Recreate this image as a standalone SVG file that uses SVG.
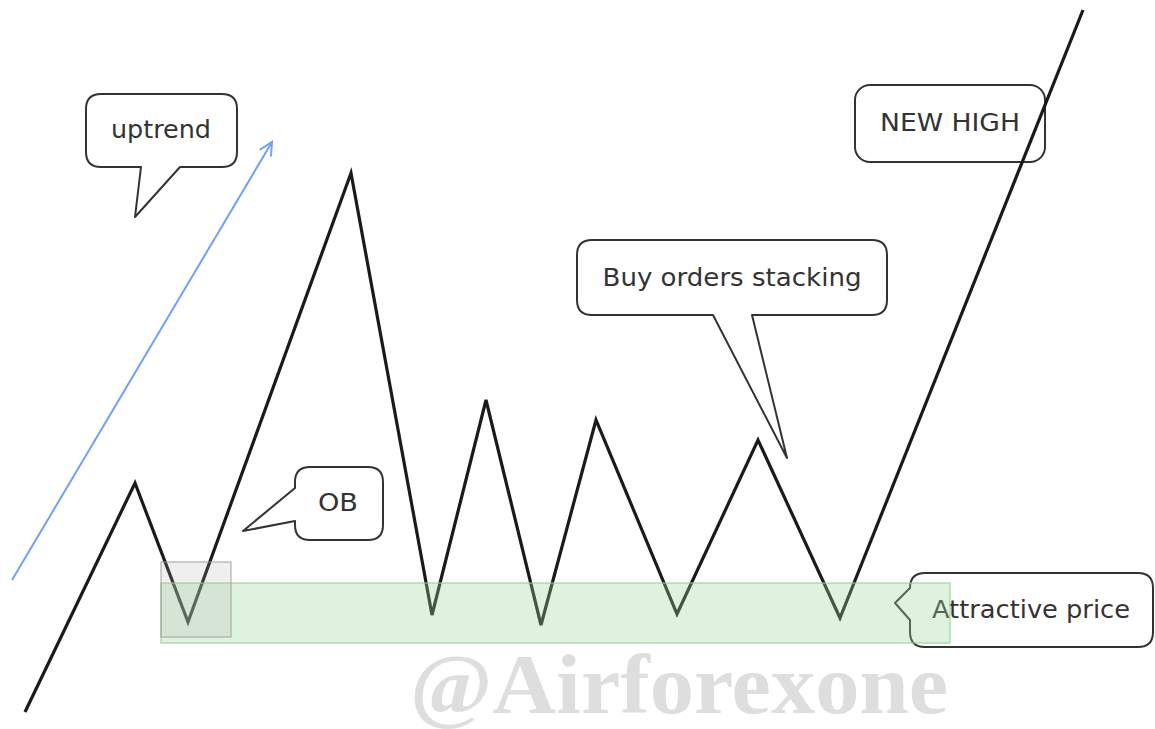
<svg xmlns="http://www.w3.org/2000/svg" width="1155" height="729" viewBox="0 0 1155 729">
<style>
.co{fill:#fff;stroke:#333;stroke-width:2;stroke-linejoin:round}
.lbl{font-family:"DejaVu Sans",Verdana,sans-serif;font-size:24px;fill:#333;text-anchor:middle}
</style>
<defs>
<marker id="ah" viewBox="0 0 16 16" refX="14" refY="8" markerWidth="16" markerHeight="16" markerUnits="userSpaceOnUse" orient="auto">
<path d="M1,1.5 L14,8 L1,14.5" fill="none" stroke="#6fa0ff" stroke-width="2"/>
</marker>
</defs>
<rect width="1155" height="729" fill="#fff"/>
<text x="679" y="713" font-family="'Liberation Serif',serif" font-weight="bold" font-size="84" fill="#dedede" text-anchor="middle" textLength="538" lengthAdjust="spacingAndGlyphs">@Airforexone</text>
<g id="uptrend">
<path class="co" d="M101,94 H222 Q237,94 237,109 V152 Q237,167 222,167 H180 L135,217 L141,167 H101 Q86,167 86,152 V109 Q86,94 101,94 Z"/>
<text class="lbl" x="161" y="138" textLength="100" lengthAdjust="spacingAndGlyphs">uptrend</text>
</g>
<g id="ob">
<path class="co" d="M310,467 H368 Q383,467 383,482 V525 Q383,540 368,540 H310 Q295,540 295,525 V521 L243,531 L295,488 V482 Q295,467 310,467 Z"/>
<text class="lbl" x="338" y="511" textLength="40" lengthAdjust="spacingAndGlyphs">OB</text>
</g>
<g id="buy-orders">
<path class="co" d="M592,240 H872 Q887,240 887,255 V300 Q887,315 872,315 H752 L787,458 L713,315 H592 Q577,315 577,300 V255 Q577,240 592,240 Z"/>
<text class="lbl" x="732" y="286" textLength="259" lengthAdjust="spacingAndGlyphs">Buy orders stacking</text>
</g>
<g id="new-high">
<rect class="co" x="855" y="85" width="190" height="77" rx="15"/>
<text class="lbl" x="950" y="131" textLength="140" lengthAdjust="spacingAndGlyphs">NEW HIGH</text>
</g>
<g id="attractive-price">
<path class="co" d="M925,573 H1138 Q1153,573 1153,588 V632 Q1153,647 1138,647 H925 Q910,647 910,632 V620 L895,603 L910,588 Q910,573 925,573 Z"/>
<text class="lbl" x="1031" y="618" textLength="198" lengthAdjust="spacingAndGlyphs">Attractive price</text>
</g>
<g id="connectors">
<line x1="12" y1="580" x2="272" y2="142" stroke="#6fa0ff" stroke-width="2" marker-end="url(#ah)"/>
<polyline points="25,712 135,483 188,622 351,173 432,615 486,400 541,625 596,420 677,614 758,440 840,618 1083,10" fill="none" stroke="#1a1a1a" stroke-width="3.2" stroke-linejoin="miter"/>
</g>
<g id="zones">
<rect x="161" y="583" width="789" height="60" fill="#9ad89a" fill-opacity="0.32" stroke="#8fd08f" stroke-opacity="0.7" stroke-width="1.5"/>
<rect x="161" y="562" width="70" height="75" fill="#b0b0b0" fill-opacity="0.2" stroke="#999" stroke-opacity="0.6" stroke-width="1.5"/>
</g>
</svg>
